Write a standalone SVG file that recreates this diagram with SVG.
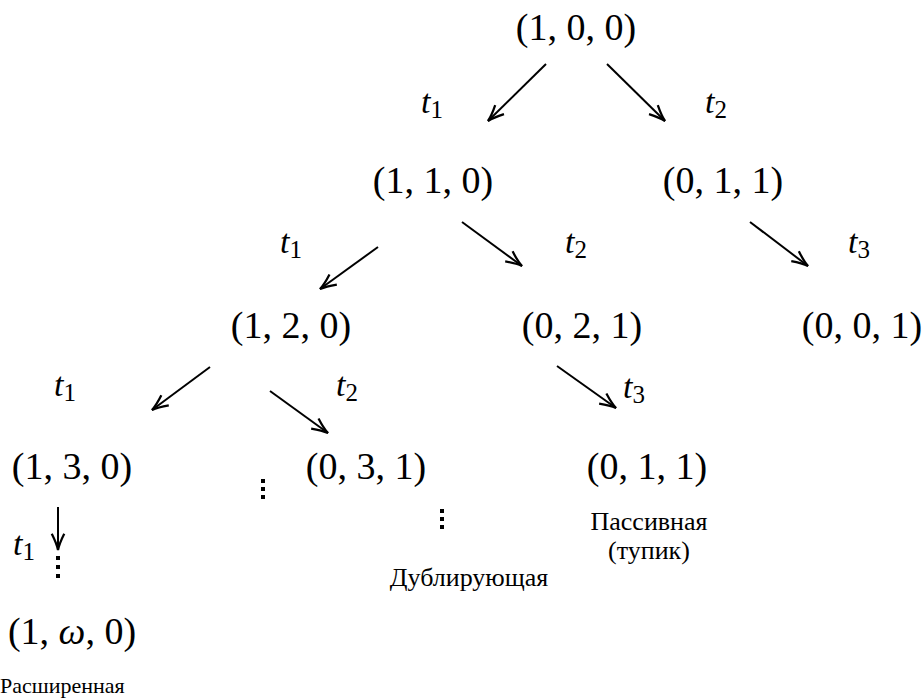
<svg xmlns="http://www.w3.org/2000/svg" width="922" height="700" viewBox="0 0 922 700">
<style>
.st{font-family:"Liberation Serif","Times New Roman",serif;font-size:38px;fill:#000;text-anchor:middle}
.t{font-family:"Liberation Serif","Times New Roman",serif;font-size:34px;font-style:italic;fill:#000}
.sub{font-size:25px;font-style:normal}
.lb{font-family:"Liberation Serif","Times New Roman",serif;font-size:26px;fill:#000;text-anchor:middle}
.ar{stroke:#000;stroke-width:2;fill:none;marker-end:url(#ah)}
.dot{fill:#000}
</style>
<defs>
<marker id="ah" markerUnits="userSpaceOnUse" markerWidth="20" markerHeight="20" refX="0" refY="0" viewBox="-14 -8 16 16" orient="auto">
<path d="M-13,-5 Q-5,-1 0,0 Q-5,1 -13,5" fill="none" stroke="#000" stroke-width="1.8"/>
</marker>
</defs>
<g id="connectors">
<line class="ar" x1="546" y1="64" x2="488" y2="121"/>
<line class="ar" x1="607" y1="64" x2="665" y2="121"/>
<line class="ar" x1="378" y1="247" x2="320" y2="289"/>
<line class="ar" x1="462" y1="222" x2="522" y2="266"/>
<line class="ar" x1="750" y1="222" x2="808" y2="266"/>
<line class="ar" x1="210" y1="367" x2="152" y2="410"/>
<line class="ar" x1="270" y1="391" x2="328" y2="433"/>
<line class="ar" x1="557" y1="366" x2="616" y2="408"/>
<line class="ar" x1="58" y1="507" x2="58" y2="550"/>
</g>
<g id="edge-labels">
<text class="t" x="421" y="113">t<tspan class="sub" dy="5">1</tspan></text>
<text class="t" x="705" y="113">t<tspan class="sub" dy="5">2</tspan></text>
<text class="t" x="280" y="253">t<tspan class="sub" dy="5">1</tspan></text>
<text class="t" x="565" y="253">t<tspan class="sub" dy="5">2</tspan></text>
<text class="t" x="848" y="253">t<tspan class="sub" dy="5">3</tspan></text>
<text class="t" x="54" y="396">t<tspan class="sub" dy="5">1</tspan></text>
<text class="t" x="336" y="396">t<tspan class="sub" dy="5">2</tspan></text>
<text class="t" x="623" y="398">t<tspan class="sub" dy="5">3</tspan></text>
<text class="t" x="13" y="555">t<tspan class="sub" dy="5">1</tspan></text>
</g>
<g id="n100"><text class="st" x="576" y="40">(1, 0, 0)</text></g>
<g id="n110"><text class="st" x="433" y="193">(1, 1, 0)</text></g>
<g id="n011a"><text class="st" x="723" y="193">(0, 1, 1)</text></g>
<g id="n120"><text class="st" x="291" y="338">(1, 2, 0)</text></g>
<g id="n021"><text class="st" x="582" y="338">(0, 2, 1)</text></g>
<g id="n001"><text class="st" x="862" y="338">(0, 0, 1)</text></g>
<g id="n130"><text class="st" x="72" y="479">(1, 3, 0)</text></g>
<g id="n031"><text class="st" x="366" y="479">(0, 3, 1)</text></g>
<g id="n011b"><text class="st" x="647" y="479">(0, 1, 1)</text><text class="lb" x="649" y="530">Пассивная</text><text class="lb" x="649" y="559">(тупик)</text></g>
<g id="n1w0"><text class="st" x="72" y="644">(1, <tspan font-style="italic">ω</tspan>, 0)</text><text class="lb" x="0" y="693" style="text-anchor:start;font-size:22px">Расширенная</text></g>
<g id="dup"><text class="lb" x="469" y="586">Дублирующая</text></g>
<g id="dots">
<rect class="dot" x="261" y="479" width="4" height="4"/>
<rect class="dot" x="261" y="487" width="4" height="4"/>
<rect class="dot" x="261" y="495" width="4" height="4"/>
<rect class="dot" x="440" y="509" width="4" height="4"/>
<rect class="dot" x="440" y="517" width="4" height="4"/>
<rect class="dot" x="440" y="525" width="4" height="4"/>
<rect class="dot" x="56" y="556" width="4" height="4"/>
<rect class="dot" x="56" y="565" width="4" height="4"/>
<rect class="dot" x="56" y="574" width="4" height="4"/>
</g>
</svg>
